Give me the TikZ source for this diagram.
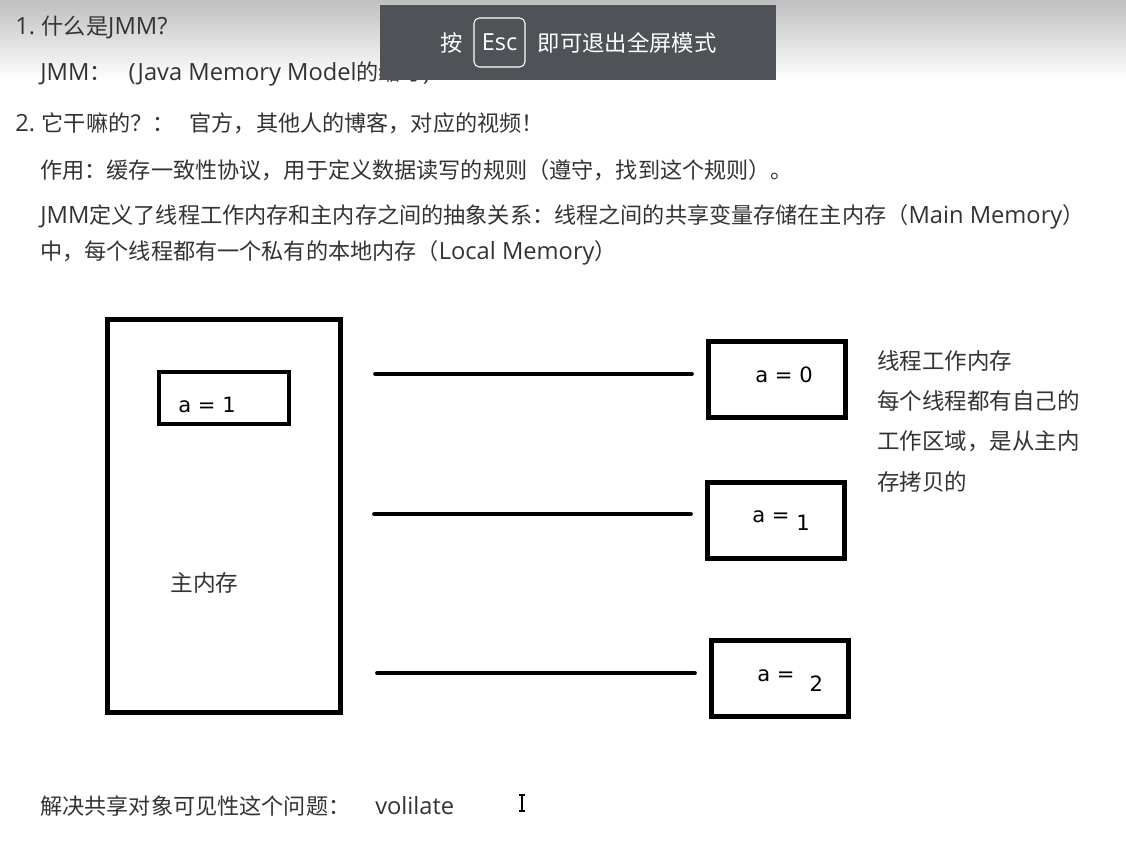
\documentclass[tikz,border=0pt]{standalone}
\usepackage{fontspec}
\setmainfont{Noto Sans CJK SC}
\newfontfamily\valfont{DejaVu Sans}
\newfontfamily\latfont{Open Sans}[Scale=1.07]
\newcommand{\lat}[1]{{\latfont #1}}
\usepackage{xcolor}
\definecolor{bodytext}{RGB}{51, 51, 51}
\definecolor{overlaygray}{RGB}{79, 82, 87}
\usetikzlibrary{positioning}

\begin{document}
\begin{tikzpicture}[x=0.02cm, y=-0.02cm,
    note/.style={anchor=west, inner sep=0pt, text=bodytext, font=\fontsize{12.6}{15}\selectfont},
    val/.style={anchor=base west, inner sep=0pt, font=\valfont\fontsize{12}{14}\selectfont},
    workbox/.style={draw, line width=0.1cm, minimum width=2.74cm, minimum height=1.52cm, inner sep=0pt},
    memline/.style={line width=0.095cm, line cap=round}]
    \useasboundingbox (0,0) rectangle (1126,840);
    \shade[top color=gray!50, bottom color=white] (0,0) rectangle (1126,80);

    % notes above the diagram
    \node[note] (q1) at (15,27) {\lat{1.} 什么是\lat{JMM?}};
    \node[note] (q1a) at (40,74) {\lat{JMM}：\hspace{0.34cm}\lat{(Java Memory Model}的缩写\lat{)}};
    \node[note] (q2) at (15,123) {\lat{2.} 它干嘛的？：\hspace{0.3cm}官方，其他人的博客，对应的视频！};
    \node[note] (q2a) at (40,170) {作用：缓存一致性协议，用于定义数据读写的规则（遵守，找到这个规则）。};
    \node[note] (q2b) at (40,217) {\lat{JMM}定义了线程工作内存和主内存之间的抽象关系：线程之间的共享变量存储在主内存（\lat{Main Memory}）};
    \node[note] (q2c) at (40,253) {中，每个线程都有一个私有的本地内存（\lat{Local Memory}）};

    % main memory
    \node[draw, line width=0.1cm, minimum width=4.68cm, minimum height=7.88cm] (mainmem) at (224,516) {};
    \node[draw, line width=0.08cm, minimum width=2.6cm, minimum height=1.04cm] (mainvar) at (224,398) {};
    \node[val] (mainval) at (178,412) {a = 1};
    \node[note, font=\fontsize{12.9}{15}\selectfont] (mainlabel) at (170,583) {主内存};

    % working memory of each thread
    \node[workbox] (work0) at (777,379.5) {};
    \node[workbox] (work1) at (776,520.5) {};
    \node[workbox] (work2) at (780,678.5) {};
    \node[val] (val0) at (755,382) {a = 0};
    \node[val] (val1) at (752,522) {a = \raisebox{-0.16cm}{1}};
    \node[val] (val2) at (757,681) {a =\hspace{0.3cm}\raisebox{-0.2cm}{2}};

    \draw[memline] ([shift={(0.64cm,0.11cm)}]mainmem.east |- work0.west) -- ([shift={(-0.29cm,0.11cm)}]work0.west);
    \draw[memline] ([shift={(0.62cm,0.13cm)}]mainmem.east |- work1.west) -- ([shift={(-0.29cm,0.13cm)}]work1.west);
    \draw[memline] ([shift={(0.68cm,0.11cm)}]mainmem.east |- work2.west) -- ([shift={(-0.29cm,0.11cm)}]work2.west);

    \node[note, anchor=base west, align=left, font=\fontsize{12.8}{22.8}\selectfont] (worknote) at (877,490)
        {线程工作内存\\每个线程都有自己的\\工作区域，是从主内\\存拷贝的};

    \node[note] (fixnote) at (40,806) {解决共享对象可见性这个问题：\hspace{0.5cm}\lat{volilate}};
    \draw[line width=0.6pt] (522,795) -- (522,811) (519,795) -- (525,795) (519,811) -- (525,811);

    % full screen hint
    \fill[overlaygray] (380,5) rectangle (776,80);
    \node[draw=white, rounded corners=3pt, line width=0.6pt, minimum width=1.02cm, minimum height=0.98cm,
        inner sep=0pt, text=white, font=\latfont\fontsize{12.5}{15}\selectfont] (esckey) at (499.5,42.5) {Esc};
    \node[left=0.2cm of esckey, inner sep=0pt, text=white, font=\fontsize{12.7}{15}\selectfont] (presslabel) {按};
    \node[right=0.24cm of esckey, inner sep=0pt, text=white, font=\fontsize{12.7}{15}\selectfont] (exitlabel) {即可退出全屏模式};
\end{tikzpicture}
\end{document}
